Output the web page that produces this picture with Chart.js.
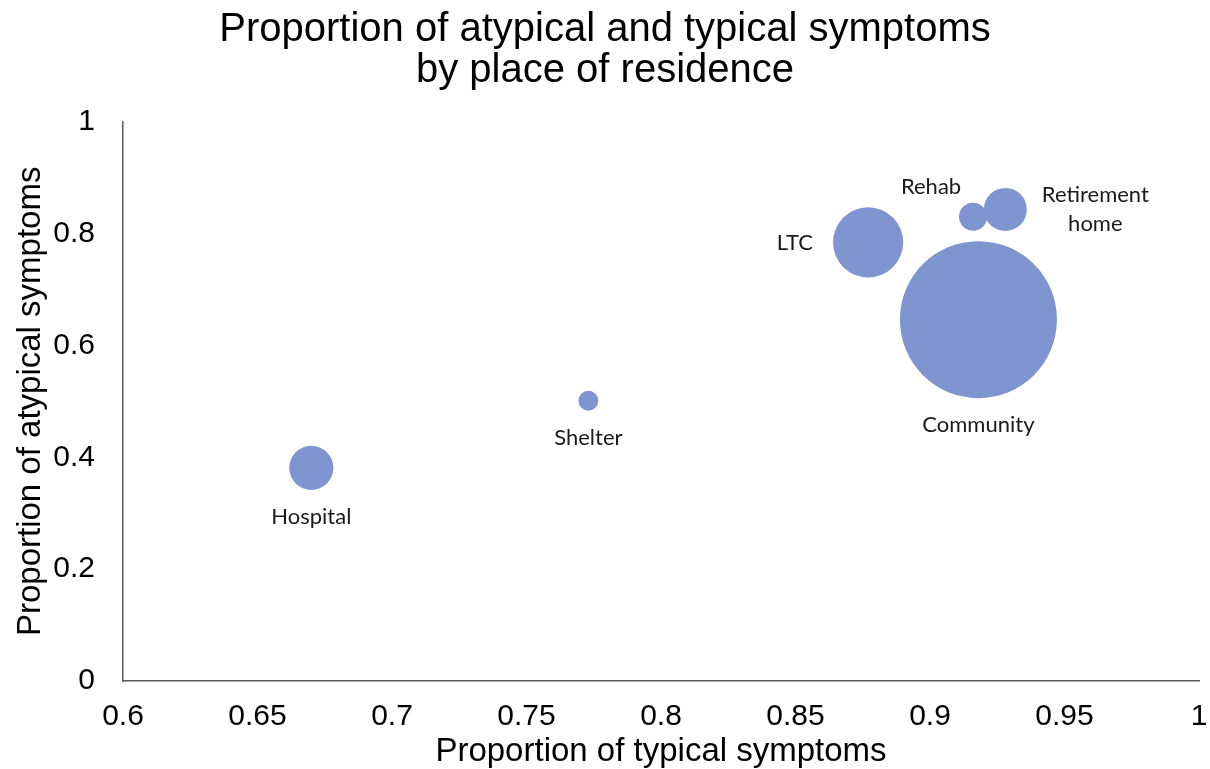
<!DOCTYPE html>
<html>
<head>
<meta charset="utf-8">
<title>Atypical and typical symptoms by place of residence</title>
<script src="https://cdn.jsdelivr.net/npm/chart.js@4.4.1/dist/chart.umd.min.js"></script>
<style>
	body { margin: 0; background: #fff; }
	#wrap { width: 1210px; height: 769px; }
</style>
</head>
<body>
<div id="wrap"><canvas id="myChart" width="1210" height="769"></canvas></div>
<script>
// ---------- data ----------
const places = ['Hospital', 'Shelter', 'LTC', 'Rehab', 'Retirement\nhome', 'Community'];
const typical = [0.670, 0.773, 0.877, 0.916, 0.928, 0.918];
const atypical = [0.381, 0.501, 0.784, 0.830, 0.843, 0.646];
const residents = [79, 16, 200, 32, 75, 1000];   // bubble size (area)
const xTicks = [0.6, 0.65, 0.7, 0.75, 0.8, 0.85, 0.9, 0.95, 1];
const yTicks = [0, 0.2, 0.4, 0.6, 0.8, 1];

// where each name sits next to its bubble
const labelPos = ['below', 'below', 'left', 'aboveLeft', 'right', 'below'];

const maxRadius = 78.5;
const maxSize = Math.max(...residents);

// --------- bubble labels ---------
const bubbleLabels = {
	id: 'bubbleLabels',
	afterDatasetsDraw(chart) {
		const ctx = chart.ctx;
		const meta = chart.getDatasetMeta(0);
		ctx.save();
		ctx.font = '22px Lato, "Open Sans", sans-serif';
		ctx.fillStyle = '#1a1a1a';
		ctx.textBaseline = 'middle';
		meta.data.forEach((pt, i) => {
			const r = pt.options.radius;
			const lines = places[i].split('\n');
			const lh = 29;
			const pos = labelPos[i];
			let x = pt.x, y = pt.y;
			ctx.textAlign = 'center';
			if (pos === 'below') {
				y = pt.y + r + 27;
			} else if (pos === 'left') {
				ctx.textAlign = 'right';
				x = pt.x - r - 20;
			} else if (pos === 'aboveLeft') {
				x = pt.x - 42;
				y = pt.y - r - 16;
			} else if (pos === 'right') {
				const w = Math.max(...lines.map(l => ctx.measureText(l).width));
				x = pt.x + r + 15 + w / 2;
				y = pt.y - (lines.length - 1) * lh / 2;
			}
			lines.forEach((l, k) => ctx.fillText(l, x, y + k * lh));
		});
		ctx.restore();
	}
};

document.addEventListener('DOMContentLoaded', function () {
	const ctx = document.getElementById('myChart').getContext('2d');
	Chart.defaults.font.family = '"Liberation Sans", Arial, Helvetica, sans-serif';
	Chart.defaults.color = '#000';

	new Chart(ctx, {
		type: 'bubble',
		data: {
			datasets: [{
				label: 'Place of residence',
				data: places.map((p, i) => ({
					x: typical[i],
					y: atypical[i],
					r: maxRadius * Math.sqrt(residents[i] / maxSize)
				})),
				backgroundColor: '#7f95cf',
				borderColor: '#7f95cf',
				borderWidth: 0,
				hoverRadius: 0
			}]
		},
		options: {
			responsive: false,
			animation: false,
			layout: { autoPadding: false, padding: 0 },
			plugins: {
				legend: { display: false },
				tooltip: { enabled: false },
				title: {
					display: true,
					text: ['Proportion of atypical and typical symptoms', 'by place of residence'],
					font: { size: 40, weight: 'normal', lineHeight: 1.02 },
					color: '#000',
					padding: { top: 10, bottom: 30 }
				}
			},
			scales: {
				x: {
					type: 'linear',
					min: xTicks[0],
					max: xTicks[xTicks.length - 1],
					afterBuildTicks: s => { s.ticks = xTicks.map(v => ({ value: v })); },
					afterFit: s => { s.height = 88; s.paddingLeft = 0; s.paddingRight = 11; },
					grid: { display: false, drawTicks: false },
					border: { display: true, color: '#595959', width: 1.5 },
					ticks: {
						padding: 18,
						font: { size: 30 },
						color: '#000',
						maxRotation: 0,
						callback: v => String(Number(v.toFixed(2)))
					},
					title: {
						display: true,
						text: 'Proportion of typical symptoms',
						font: { size: 33, lineHeight: 1 },
						color: '#000',
						padding: { top: 0, bottom: 1 }
					}
				},
				y: {
					type: 'linear',
					min: 0,
					max: 1,
					afterBuildTicks: s => { s.ticks = yTicks.map(v => ({ value: v })); },
					afterFit: s => { s.width = 123; },
					grid: { display: false, drawTicks: false },
					border: { display: true, color: '#595959', width: 1.5 },
					ticks: {
						padding: 28,
						font: { size: 30 },
						color: '#000',
						callback: v => String(Number(v.toFixed(1)))
					},
					title: {
						display: true,
						text: 'Proportion of atypical symptoms',
						font: { size: 33, lineHeight: 1 },
						color: '#000',
						padding: { top: 14, bottom: 0 }
					}
				}
			}
		},
		plugins: [bubbleLabels]
	});
});
</script>
</body>
</html>
